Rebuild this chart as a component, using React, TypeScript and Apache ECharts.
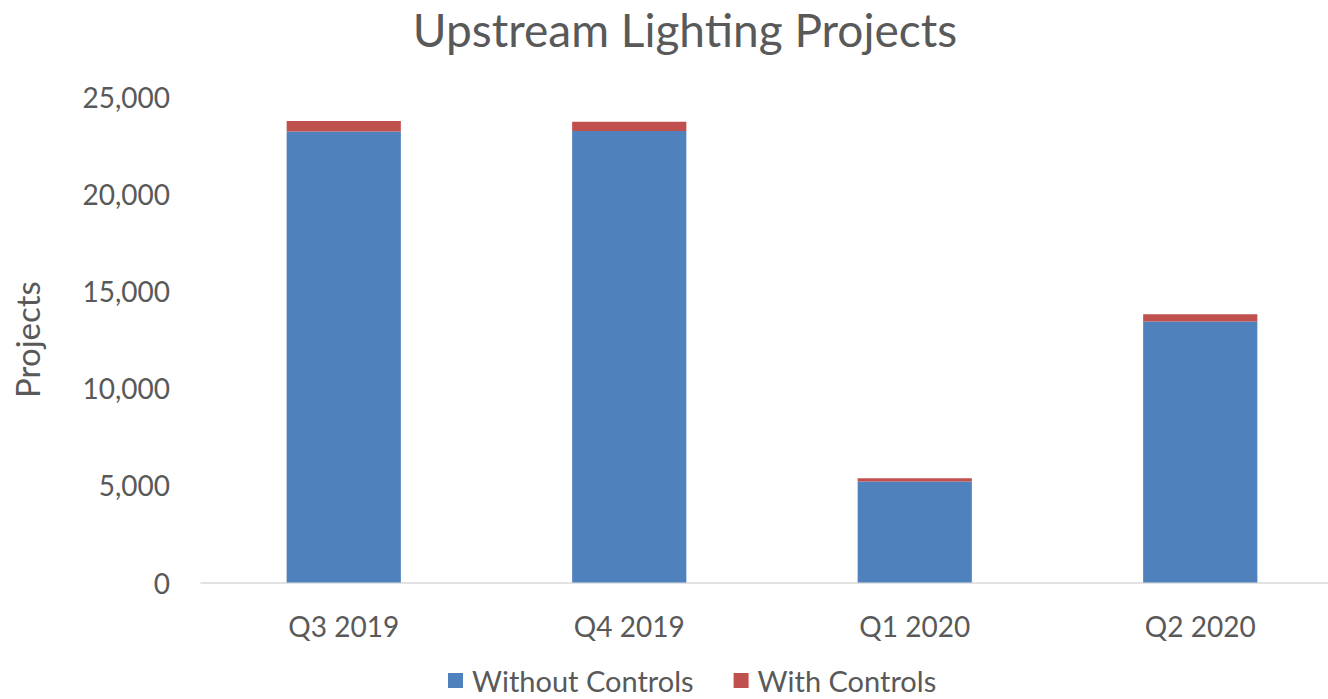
import React, { useEffect, useRef } from "react";
import * as echarts from "echarts";

const categories = ["Q3 2019", "Q4 2019", "Q1 2020", "Q2 2020"];
const withoutControls = [23200, 23220, 5190, 13420];
const withControls = [540, 480, 170, 380];
const yTicks = [0, 5000, 10000, 15000, 20000, 25000];

const FONT = "Lato, 'Open Sans', sans-serif";
const TEXT = "#595959";

export default function App() {
  const ref = useRef<HTMLDivElement>(null);
  useEffect(() => {
    if (!ref.current) return;
    const chart = echarts.init(ref.current, null, { renderer: "svg" });
    chart.setOption({
      animation: false,
      backgroundColor: "#ffffff",
      textStyle: { fontFamily: FONT },
      title: {
        text: "Upstream Lighting Projects",
        left: 680,
        textAlign: "center",
        top: 1,
        textStyle: { fontFamily: FONT, fontSize: 46, fontWeight: "normal", color: TEXT },
      },
      legend: {
        data: ["Without Controls", "With Controls"],
        left: 443,
        top: 661,
        itemWidth: 15,
        itemHeight: 15,
        itemGap: 40,
        icon: "rect",
        textStyle: {
          fontFamily: FONT,
          fontSize: 29,
          lineHeight: 29,
          color: TEXT,
          padding: [0, 0, 0, 4],
        },
      },
      grid: { left: 201, right: 0, top: 96.5, bottom: 116.5, containLabel: false },
      xAxis: {
        type: "category",
        data: categories,
        axisLine: { show: true, lineStyle: { color: "#d9d9d9", width: 1.5 } },
        axisTick: { show: false },
        axisLabel: { margin: 29, fontFamily: FONT, fontSize: 28, color: TEXT },
      },
      yAxis: {
        type: "value",
        min: yTicks[0],
        max: yTicks[yTicks.length - 1],
        interval: yTicks[1] - yTicks[0],
        name: "Projects",
        nameLocation: "middle",
        nameRotate: 90,
        nameGap: 158,
        nameTextStyle: { fontFamily: FONT, fontSize: 33, color: TEXT },
        axisLine: { show: false },
        axisTick: { show: false },
        splitLine: { show: false },
        axisLabel: {
          margin: 31,
          fontFamily: FONT,
          fontSize: 28,
          color: TEXT,
          formatter: (v: number) => v.toLocaleString("en-US"),
        },
      },
      series: [
        {
          name: "Without Controls",
          type: "bar",
          stack: "total",
          barWidth: "40%",
          itemStyle: { color: "#4f81bd" },
          data: withoutControls,
        },
        {
          name: "With Controls",
          type: "bar",
          stack: "total",
          barWidth: "40%",
          itemStyle: { color: "#c0504d" },
          data: withControls,
        },
      ],
    });
    return () => chart.dispose();
  }, []);
  return (
    <div
      ref={ref}
      style={{ position: "fixed", left: 0, top: 0, width: 1343, height: 699, background: "#fff" }}
    />
  );
}
